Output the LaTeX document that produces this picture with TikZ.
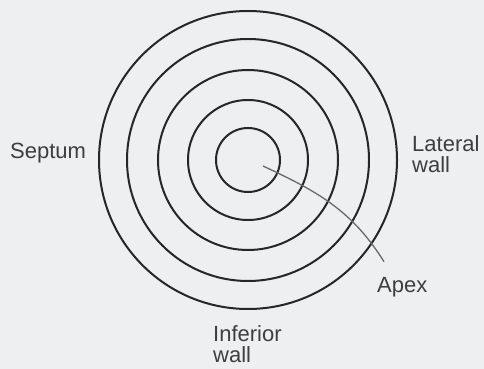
\documentclass[tikz,border=0pt]{standalone}
\usepackage{fontspec}
\setmainfont{Liberation Sans}
\usetikzlibrary{positioning}
\definecolor{bgc}{RGB}{237,239,241}
\definecolor{ringc}{RGB}{38,38,40}
\definecolor{txtc}{RGB}{62,62,64}
\definecolor{leadc}{RGB}{105,105,108}

\begin{document}
\begin{tikzpicture}[
        x=1pt, y=1pt,
        ring/.style={circle, draw=ringc, line width=2pt, inner sep=0pt},
        lbl/.style={font=\fontsize{22}{21.5}\selectfont, text=txtc, inner sep=0pt, align=left, anchor=base west},
        lead/.style={draw=leadc, line width=1.3pt},
    ]
        % Page frame
        \fill[bgc] (0, 0) rectangle (484, 369);
        \useasboundingbox (0, 0) rectangle (484, 369);

        % Concentric rings (apex in the middle)
        \coordinate (C) at (248, 209);
        \foreach \r/\n in {32/R1, 60/R2, 90/R3, 121/R4, 149/R5}
            \node[ring, minimum size=2*\r] (\n) at (C) {};

        % Wall labels (base = last line)
        \node[lbl] (SEPTUM) at (10, 210) {Septum};
        \node[lbl] (LATERAL) at (412, 196) {Lateral\\wall};
        \node[lbl] (INFERIOR) at (213, 6) {Inferior\\wall};

        % Apex pointer
        \node[lbl] (APEX) at (377, 76) {Apex};
        \coordinate (TIP) at (263, 203);
        \draw[lead] (TIP) to[out=-25, in=122] ([xshift=7pt, yshift=16pt]APEX.north west);
    \end{tikzpicture}
\end{document}
